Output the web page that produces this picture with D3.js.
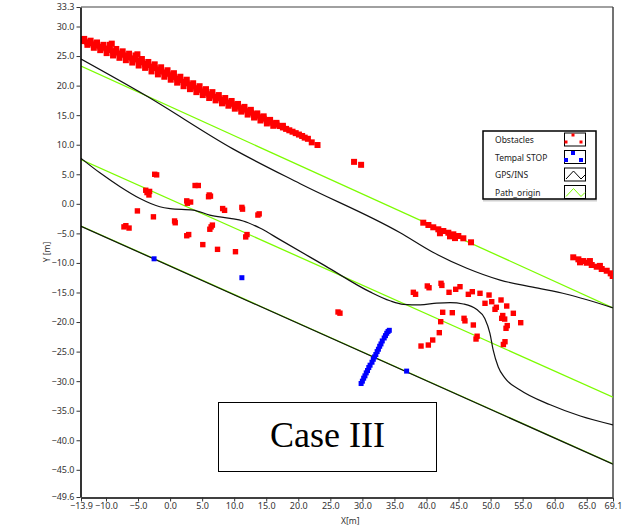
<!DOCTYPE html>
<html>
<head>
<meta charset="utf-8">
<script src="https://cdn.jsdelivr.net/npm/d3@7"></script>
<style>
  body { margin: 0; background: #fff; }
  svg { display: block; }
  .tick text { font-family: "Noto Sans", sans-serif; font-size: 9px; fill: #333; }
</style>
</head>
<body>
<svg id="chart" width="629" height="530"></svg>
<script>
// axis ticks
const xTicks = [-13.9, -10, -5, 0, 5, 10, 15, 20, 25, 30, 35, 40, 45, 50, 55, 60, 65, 69.1];
const yTicks = [33.3, 30, 25, 20, 15, 10, 5, 0, -5, -10, -15, -20, -25, -30, -35, -40, -45, -49.6];

// Path_origin (green) lanes
const pathOrigin = [
  [[-13.9, 23.3], [69.1, -17.6]],
  [[-13.9, 7.5], [69.1, -32.7]],
  [[-13.9, -3.75], [69.1, -44.0]]
];

// GPS/INS tracks (black)
const gpsTop = [[-13.9, 24.5], [-3.6, 18.2], [9.8, 9.3], [20.3, 3.4], [35.9, -4.9], [41.0, -8.2],
  [46.3, -10.9], [51.5, -12.9], [56.6, -14.1], [61.9, -15.3], [69.1, -17.6]];
const gpsMid = [[-13.9, 7.7], [-10.9, 5.2], [-7.8, 2.9], [-4.7, 0.9], [-1.6, -0.5], [0.0, -0.8],
  [3.6, -1.05], [6.2, -1.9], [9.35, -2.45], [11.4, -2.9], [14.0, -4.1], [17.2, -6.1], [24.2, -10.5],
  [31.2, -14.9], [34.3, -16.4], [36.4, -17.0], [39.0, -17.1], [41.6, -16.8], [43.7, -16.7],
  [45.75, -16.95], [47.8, -17.85], [49.1, -19.4], [49.9, -21.9], [50.4, -24.7], [51.2, -27.6],
  [52.25, -29.5], [54.6, -31.5], [59.3, -34.0], [64.0, -35.9], [69.1, -37.4]];
const gpsLow = [[-13.9, -3.8], [69.1, -44.05]];

// Obstacles: wall on the upper side
const wallMid = [[-13.9, 27.72], [-13.4, 27.53], [-12.9, 27.34], [-12.4, 27.16], [-11.9, 26.97], [-11.4, 26.78],
  [-10.9, 26.59], [-10.4, 26.40], [-9.9, 26.22], [-9.4, 26.03], [-8.9, 25.83], [-8.4, 25.63], [-7.9, 25.43],
  [-7.4, 25.22], [-6.9, 25.02], [-6.4, 24.81], [-5.9, 24.61], [-5.4, 24.41], [-4.9, 24.18], [-4.4, 23.94],
  [-3.9, 23.69], [-3.4, 23.45], [-2.9, 23.21], [-2.4, 22.97], [-1.9, 22.72], [-1.4, 22.48], [-0.9, 22.24],
  [-0.4, 21.99], [0.1, 21.75], [0.6, 21.47], [1.1, 21.20], [1.6, 20.93], [2.1, 20.65], [2.6, 20.38],
  [3.1, 20.11], [3.6, 19.83], [4.1, 19.56], [4.6, 19.29], [5.1, 19.01], [5.6, 18.78], [6.1, 18.54],
  [6.6, 18.31], [7.1, 18.08], [7.6, 17.85], [8.1, 17.61], [8.6, 17.38], [9.1, 17.15], [9.6, 16.92],
  [10.1, 16.68], [10.6, 16.44], [11.1, 16.19], [11.6, 15.93], [12.1, 15.68], [12.6, 15.42], [13.1, 15.16],
  [13.6, 14.91], [14.1, 14.65], [14.6, 14.40], [15.1, 14.14], [15.6, 13.88], [16.1, 13.64], [16.6, 13.40],
  [17.1, 13.16], [17.6, 12.92], [18.1, 12.68], [18.6, 12.44], [19.1, 12.20], [19.6, 11.96], [20.1, 11.72],
  [20.6, 11.48], [21.0, 11.2], [21.5, 11.0], [22.1, 10.4], [23.0, 9.95]];
const wallUpper = [[-13.4, 27.9], [-12.4, 27.6], [-11.4, 27.3], [-10.4, 26.9], [-9.4, 26.9], [-9.1, 27.1],
  [-8.4, 26.2], [-7.4, 25.8], [-6.4, 25.4], [-5.4, 25.1], [-5.1, 25.3], [-4.4, 24.5], [-3.4, 24.0],
  [-2.4, 23.6], [-1.4, 23.1], [-0.4, 22.6], [0.6, 22.1], [1.6, 21.5], [2.6, 21.0], [3.6, 20.4], [4.6, 19.9],
  [5.6, 19.4], [6.6, 18.9], [7.6, 18.4], [8.6, 17.9], [9.6, 17.4], [10.6, 16.9], [11.6, 16.4], [12.6, 15.9],
  [13.6, 15.3], [14.6, 14.8], [15.6, 14.2], [16.6, 13.7], [17.6, 13.2]];
const wallLower = [[-12.9, 26.9], [-11.9, 26.4], [-10.9, 26.0], [-9.9, 25.5], [-8.9, 25.1], [-7.9, 24.7],
  [-6.9, 24.3], [-5.9, 23.9], [-4.9, 23.4], [-3.9, 23.0], [-2.9, 22.4], [-1.9, 21.9], [-0.9, 21.5],
  [0.1, 21.0], [1.1, 20.5], [2.1, 19.9], [3.1, 19.4], [4.1, 18.9], [5.1, 18.4], [6.1, 17.9], [7.1, 17.5],
  [8.1, 17.0], [9.1, 16.6], [10.1, 16.1], [11.1, 15.6], [12.1, 15.1], [13.1, 14.6], [14.1, 14.1],
  [15.1, 13.6], [16.1, 13.2]];

// Obstacles: short walls to the right
const wallRight = [[28.7, 7.1], [29.8, 6.6],
  [39.5, -3.19], [40.3, -3.58], [41.06, -3.97], [41.85, -4.31], [42.63, -4.6], [43.41, -4.89], [44.19, -5.16],
  [44.97, -5.44], [45.75, -5.83], [46.95, -6.51], [42.1, -4.98], [43.67, -5.5], [44.45, -5.8],
  [62.9, -9.05], [63.7, -9.39], [64.47, -9.68], [65.0, -9.97], [65.78, -10.35], [66.56, -10.64],
  [67.34, -11.03], [68.12, -11.32], [68.74, -11.76], [69.05, -12.21], [63.95, -9.9], [65.5, -9.68], [67.06, -10.5]];

// Obstacles: scattered objects near the road
const clusterLeft = [[-2.4, 5.0], [-2.1, 4.9], [-3.6, 1.9], [-3.3, 1.5], [-3.8, 2.3], [-3.2, 2.1], [3.9, 3.1],
  [4.4, 3.1], [6.1, 1.5], [6.0, 1.2], [6.3, 1.3], [2.6, 0.5], [3.2, 0.3], [2.7, 0.1], [-5.1, -1.2],
  [8.2, -0.8], [8.5, -1.1], [11.3, -0.9], [11.2, -0.6], [13.7, -1.9], [13.9, -1.7], [-2.6, -2.2],
  [0.7, -2.9], [0.8, -3.2], [-6.9, -3.7], [-6.4, -4.1], [-7.2, -3.9], [6.4, -3.9], [6.2, -4.3], [6.6, -3.6],
  [2.6, -5.4], [2.9, -5.2], [12.0, -5.2], [11.8, -5.6], [5.1, -6.9], [7.4, -7.7], [10.2, -8.1],
  [26.2, -18.3], [26.5, -18.5]];
const clusterRight = [[37.95, -14.97], [38.3, -15.3], [40.13, -13.9], [40.4, -14.2], [42.27, -13.45],
  [42.4, -13.8], [43.52, -14.97], [44.56, -14.46], [45.23, -14.02], [46.53, -15.31], [47.15, -14.87],
  [48.35, -15.14], [49.76, -15.43], [49.13, -16.83], [50.18, -16.56], [51.63, -16.27], [50.69, -17.85],
  [50.9, -17.5], [52.52, -17.29], [53.55, -18.52], [51.74, -19.37], [51.9, -18.9], [52.2, -19.5],
  [54.7, -20.11], [52.41, -21.06], [52.6, -20.6], [52.25, -23.33], [52.0, -23.8], [42.53, -18.35],
  [44.03, -18.42], [45.86, -19.37], [46.0, -19.8], [47.31, -20.5], [42.22, -19.94], [42.0, -21.8],
  [47.73, -22.87], [47.9, -22.4], [40.97, -23.04], [40.29, -23.89], [39.15, -24.06]];

// Tempal STOP points
const stopPoints = [[-2.5, -9.3], [11.2, -12.5], [36.9, -28.3]];
const stopLine = [[29.8, -30.4], [30.0, -30.0], [30.2, -29.5], [30.4, -29.1], [30.6, -28.6], [30.8, -28.2],
  [31.0, -27.7], [31.2, -27.3], [31.5, -26.8], [31.7, -26.3], [31.9, -25.9], [32.1, -25.5], [32.3, -25.0],
  [32.5, -24.6], [32.7, -24.1], [32.9, -23.7], [33.1, -23.2], [33.4, -22.7], [33.6, -22.3], [33.8, -21.9],
  [34.0, -21.6], [34.2, -21.4]];

const legendItems = ["Obstacles", "Tempal STOP", "GPS/INS", "Path_origin"];

const RED = "#ff0000";
const BLUE = "#0000ff";
const GREEN = "#7cfc00";

const svg = d3.select("#chart");
const x = d3.scaleLinear().domain([-13.9, 69.1]).range([81, 613]);
const y = d3.scaleLinear().domain([33.3, -49.6]).range([7, 497]);

svg.append("clipPath").attr("id", "plot-clip")
  .append("rect").attr("x", 81).attr("y", 7).attr("width", 532).attr("height", 490);

// frame: top and right borders
svg.append("line").attr("x1", 81).attr("y1", 7).attr("x2", 613).attr("y2", 7)
  .attr("stroke", "#a0a0a0").attr("stroke-width", 2);
svg.append("line").attr("x1", 613).attr("y1", 7).attr("x2", 613).attr("y2", 497)
  .attr("stroke", "#444").attr("stroke-width", 1.5);

const plot = svg.append("g").attr("clip-path", "url(#plot-clip)");
const line = d3.line().x(d => x(d[0])).y(d => y(d[1]));
const smooth = d3.line().x(d => x(d[0])).y(d => y(d[1])).curve(d3.curveMonotoneX);

plot.selectAll(".origin")
  .data(pathOrigin)
  .join("path")
  .attr("class", "origin")
  .attr("d", line)
  .attr("fill", "none")
  .attr("stroke", GREEN)
  .attr("stroke-width", 1.3);

plot.selectAll(".gps")
  .data([gpsTop, gpsMid, gpsLow])
  .join("path")
  .attr("class", "gps")
  .attr("d", smooth)
  .attr("fill", "none")
  .attr("stroke", "#111")
  .attr("stroke-width", 1.2);

// obstacles: wall points a bit bigger so the band reads as one mass
const walls = [...wallMid, ...wallUpper, ...wallLower, ...wallRight];
const clusters = [...clusterLeft, ...clusterRight];
plot.selectAll(".obs")
  .data([...walls.map(d => [d, 6]), ...clusters.map(d => [d, 5.4])])
  .join("rect")
  .attr("class", "obs")
  .attr("x", ([d, s]) => x(d[0]) - s / 2)
  .attr("y", ([d, s]) => y(d[1]) - s / 2)
  .attr("width", ([, s]) => s)
  .attr("height", ([, s]) => s)
  .attr("fill", RED);

// stop points
plot.selectAll(".stop")
  .data([...stopPoints, ...stopLine])
  .join("rect")
  .attr("class", "stop")
  .attr("x", d => x(d[0]) - 2.5)
  .attr("y", d => y(d[1]) - 2.5)
  .attr("width", 5)
  .attr("height", 5)
  .attr("fill", BLUE);

// axes
const fmt = d3.format(".1f");
const yAxis = svg.append("g")
  .attr("transform", "translate(80.5,0)")
  .call(d3.axisLeft(y).tickValues(yTicks).tickFormat(fmt).tickSize(4).tickSizeOuter(0).tickPadding(2));
const xAxis = svg.append("g")
  .attr("transform", "translate(0,497.5)")
  .call(d3.axisBottom(x).tickValues(xTicks).tickFormat(fmt).tickSize(4).tickSizeOuter(0).tickPadding(1));
[yAxis, xAxis].forEach(g => {
  g.select(".domain").attr("stroke", "#000").attr("stroke-width", 1.6);
  g.selectAll(".tick line").attr("stroke", "#333");
});

svg.append("text")
  .attr("transform", "translate(50,252) rotate(-90)")
  .attr("text-anchor", "middle")
  .attr("font-family", "Noto Sans, sans-serif")
  .attr("font-size", 8.5)
  .attr("fill", "#333")
  .text("Y [m]");
svg.append("text")
  .attr("x", 341)
  .attr("y", 524)
  .attr("font-family", "Noto Sans, sans-serif")
  .attr("font-size", 8.5)
  .attr("fill", "#333")
  .text("X[m]");

// legend
const legend = svg.append("g").attr("transform", "translate(483,131)");
legend.append("line").attr("x1", 0).attr("y1", 69.5).attr("x2", 114).attr("y2", 69.5)
  .attr("stroke", "#d0d0d0").attr("stroke-width", 2);
legend.append("rect").attr("width", 113).attr("height", 68)
  .attr("fill", "#fff").attr("stroke", "#000").attr("stroke-width", 1.5);

const rows = legend.selectAll(".row")
  .data(legendItems)
  .join("g")
  .attr("class", "row")
  .attr("transform", (d, i) => `translate(0,${i * 17.5})`);
rows.append("text")
  .attr("x", 12)
  .attr("y", 12)
  .attr("font-family", "Noto Sans, sans-serif")
  .attr("font-size", 8.5)
  .attr("fill", "#222")
  .text(d => d);
rows.append("rect")
  .attr("x", 81.5)
  .attr("y", 2)
  .attr("width", 21)
  .attr("height", 13)
  .attr("fill", "#fff")
  .attr("stroke", "#000")
  .attr("stroke-width", 1);

const markerPos = [[90, 4], [83, 11], [98, 11]];
rows.filter((d, i) => i < 2).each(function (d, i) {
  const s = i === 0 ? 3 : 4;
  d3.select(this).selectAll(".mk")
    .data(markerPos)
    .join("rect")
    .attr("x", p => p[0] - s / 2)
    .attr("y", p => p[1] - s / 2 + (i === 0 ? 0 : 0.5))
    .attr("width", s)
    .attr("height", s)
    .attr("fill", i === 0 ? RED : BLUE);
});
const zig = [[83, 13], [90.5, 5], [98, 13], [102, 9]];
rows.filter((d, i) => i >= 2).append("path")
  .attr("d", d3.line()(zig))
  .attr("fill", "none")
  .attr("stroke", (d, i) => i === 0 ? "#000" : GREEN)
  .attr("stroke-width", 1);

// case label
svg.append("rect")
  .attr("x", 218.5).attr("y", 402.5)
  .attr("width", 218).attr("height", 69)
  .attr("fill", "#fff").attr("stroke", "#000").attr("stroke-width", 1);
svg.append("text")
  .attr("x", 327.5)
  .attr("y", 447)
  .attr("text-anchor", "middle")
  .attr("font-family", "Liberation Serif, Times New Roman, serif")
  .attr("font-size", 36)
  .attr("fill", "#000")
  .text("Case III");
</script>
</body>
</html>
